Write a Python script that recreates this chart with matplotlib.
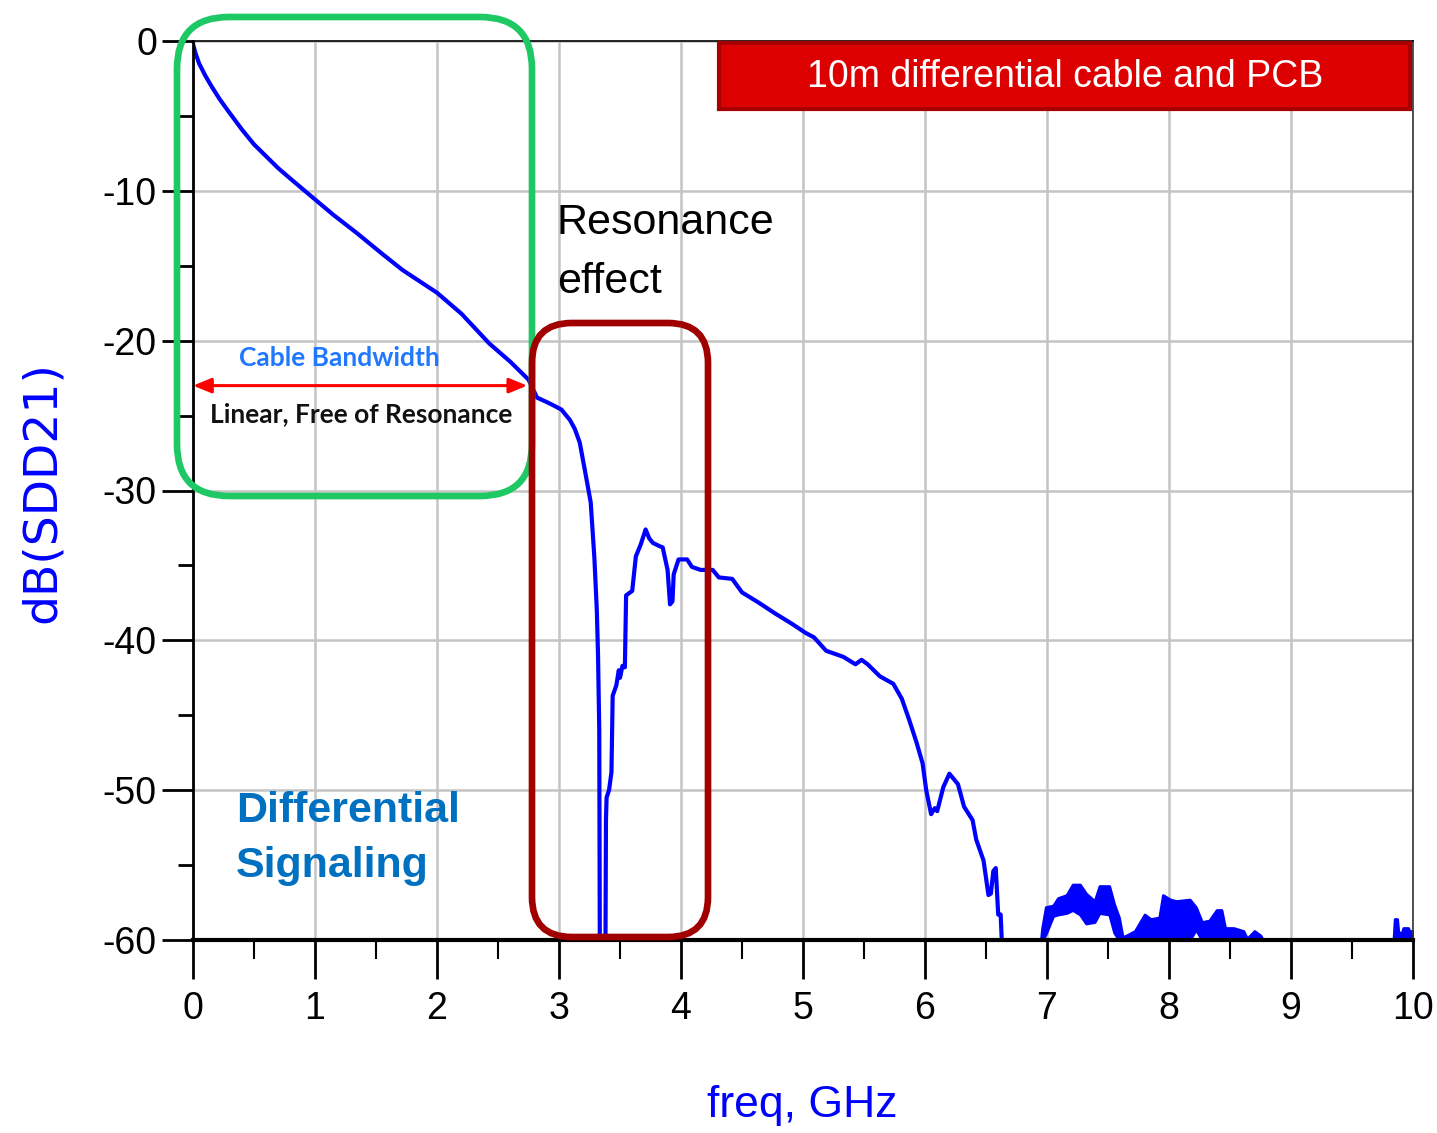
import matplotlib
matplotlib.use("Agg")
import matplotlib.pyplot as plt
from matplotlib import font_manager as fm
from matplotlib.patches import FancyBboxPatch, Rectangle

# ---------------- data ----------------
freq_ghz = [0.0, 0.02, 0.05, 0.10, 0.15, 0.22, 0.30, 0.40, 0.50, 0.60, 0.70, 0.80, 0.96, 1.15,
            1.34, 1.55, 1.72, 2.00, 2.20, 2.43, 2.60, 2.75, 2.82, 2.90, 2.95, 3.02, 3.09, 3.13,
            3.17, 3.22, 3.26, 3.29, 3.31, 3.32, 3.33, 3.335, 3.38, 3.385, 3.39, 3.41, 3.43, 3.44,
            3.47, 3.49, 3.50, 3.52, 3.54, 3.55, 3.60, 3.63, 3.67, 3.71, 3.74, 3.77, 3.82, 3.85,
            3.89, 3.91, 3.93, 3.94, 3.98, 4.05, 4.09, 4.16, 4.26, 4.31, 4.42, 4.50, 4.64,
            4.77, 4.91, 5.02, 5.09, 5.19, 5.33, 5.43, 5.48, 5.53, 5.63, 5.74, 5.81, 5.87,
            5.93, 5.98, 6.01, 6.05, 6.08, 6.10, 6.15, 6.20, 6.24, 6.27, 6.32, 6.39, 6.42,
            6.48, 6.52, 6.54, 6.56, 6.58, 6.60, 6.62, 6.64, 6.95]
sdd21_db = [-0.2, -0.8, -1.5, -2.3, -3.0, -3.9, -4.8, -5.9, -6.9, -7.7, -8.5, -9.2, -10.3, -11.6,
            -12.8, -14.2, -15.3, -16.8, -18.2, -20.2, -21.4, -22.6, -23.8, -24.1, -24.3, -24.6, -25.3, -25.9,
            -26.8, -29.0, -30.8, -34.5, -38.0, -41.0, -46.0, -62.0, -62.0, -52.0, -50.5, -50.0, -48.8, -43.7,
            -43.0, -42.0, -42.5, -41.7, -41.8, -37.0, -36.7, -34.4, -33.6, -32.6, -33.2, -33.5, -33.7, -33.8,
            -35.3, -37.6, -37.4, -35.6, -34.6, -34.6, -35.1, -35.3, -35.3, -35.8, -35.9, -36.8, -37.5,
            -38.2, -38.9, -39.5, -39.8, -40.7, -41.1, -41.6, -41.3, -41.6, -42.4, -42.9, -43.9, -45.3,
            -46.8, -48.2, -50.0, -51.6, -51.2, -51.4, -49.8, -48.9, -49.3, -49.6, -51.1, -52.0, -53.3,
            -54.7, -57.0, -56.9, -55.4, -55.2, -58.3, -58.3, -62.0, -62.0]

# noisy floor region: upper / lower envelopes
band_freq = [6.95, 6.96, 6.99, 7.05, 7.09, 7.16, 7.21, 7.27, 7.32, 7.39, 7.43, 7.51, 7.55, 7.59,
             7.62, 7.65, 7.72, 7.80, 7.85, 7.92, 7.95, 8.01, 8.06, 8.17, 8.22, 8.27, 8.33, 8.39,
             8.43, 8.46, 8.53, 8.61, 8.64, 8.70, 8.75, 8.77,
             9.84, 9.85, 9.87, 9.88, 9.91, 9.92, 9.96, 9.97, 10.0]
band_hi = [-60.0, -59.2, -57.8, -57.7, -57.2, -57.0, -56.3, -56.3, -56.9, -57.4, -56.4, -56.4, -57.6, -58.5,
           -59.8, -59.7, -59.4, -58.3, -58.6, -58.5, -57.0, -57.3, -57.4, -57.3, -57.8, -58.8, -58.7, -58.0,
           -58.0, -59.2, -59.2, -59.4, -59.9, -59.4, -59.7, -60.0,
           -60.0, -58.6, -58.6, -59.5, -59.5, -59.2, -59.2, -59.4, -59.4]
band_lo = [-60.0, -60.0, -59.6, -58.4, -58.3, -58.2, -58.0, -58.3, -58.9, -58.8, -58.2, -58.3, -59.5, -60.0,
           -60.0, -60.0, -60.0, -60.0, -60.0, -60.0, -60.0, -60.0, -60.0, -60.0, -59.3, -60.0, -60.0, -60.0,
           -60.0, -60.0, -60.0, -60.0, -60.0, -60.0, -60.0, -60.0,
           -60.0, -60.0, -60.0, -60.0, -60.0, -60.0, -60.0, -60.0, -60.0]

x_ticks = [0, 1, 2, 3, 4, 5, 6, 7, 8, 9, 10]
x_tick_labels = ["0", "1", "2", "3", "4", "5", "6", "7", "8", "9", "10"]
y_ticks = [0, -10, -20, -30, -40, -50, -60]
y_tick_labels = ["0", "-10", "-20", "-30", "-40", "-50", "-60"]

# ---------------- fonts ----------------
names = {f.name for f in fm.fontManager.ttflist}
HAS_NARROW = "Liberation Sans Narrow" in names
NARROW = "Liberation Sans Narrow" if HAS_NARROW else "Liberation Sans"
TICK_FS = 30 if HAS_NARROW else 27
SANS = "Liberation Sans"
CAL = "Lato" if "Lato" in names else SANS

W, H = 1437, 1133
fig = plt.figure(figsize=(W / 100, H / 100), dpi=100)
fig.patch.set_facecolor("white")

def fx(px):
    return px / W

def fy(py):
    return 1 - py / H

ax = fig.add_axes([fx(193), fy(940), (1413 - 193) / W, (940 - 41) / H])
ax.set_xlim(0, 10)
ax.set_ylim(-60, 0)

ax.plot(freq_ghz, sdd21_db, color="#0000ff", lw=3.0, zorder=3, solid_joinstyle="round")
ax.fill_between(band_freq, band_lo, band_hi, color="#0000ff", lw=2.0, edgecolor="#0000ff", zorder=3)

# ticks
ax.set_xticks(x_ticks)
ax.set_xticklabels(x_tick_labels)
ax.set_xticks([v + 0.5 for v in x_ticks[:-1]], minor=True)
ax.set_yticks(y_ticks)
ax.set_yticklabels(y_tick_labels)
ax.set_yticks([v - 5 for v in y_ticks[:-1]], minor=True)

ax.tick_params(axis="x", which="major", direction="out", length=28, width=2.0, pad=9,
               labelsize=TICK_FS, colors="black")
ax.tick_params(axis="x", which="minor", direction="out", length=14, width=1.5)
ax.tick_params(axis="y", which="major", direction="out", length=22, width=2.0, pad=4,
               labelsize=TICK_FS, colors="black")
ax.tick_params(axis="y", which="minor", direction="out", length=11, width=2.0)
for lab in ax.get_xticklabels() + ax.get_yticklabels():
    lab.set_fontfamily(NARROW)

ax.grid(True, which="major", color="#c4c4c4", lw=1.8, zorder=0)
ax.set_axisbelow(True)

ax.spines["left"].set_linewidth(2.0)
ax.spines["bottom"].set_linewidth(3.0)
ax.spines["top"].set_linewidth(1.2)
ax.spines["right"].set_linewidth(1.2)
ax.spines["right"].set_color("#333333")
for s in ax.spines.values():
    s.set_zorder(4)

# axis labels
fig.text(fx(42), fy(492), "dB(SDD21)", rotation=90, ha="center", va="center",
         fontsize=34, color="#0000ff", family="DejaVu Sans")
fig.text(fx(802), fy(1106), "freq, GHz", ha="center", va="center",
         fontsize=36 if HAS_NARROW else 32, color="#0000ff", family=NARROW)

# title box
fig.add_artist(Rectangle((fx(719), fy(109)), (1410 - 719) / W, (109 - 43) / H,
                         transform=fig.transFigure, facecolor="#dd0000", edgecolor="#a80000",
                         lw=3, zorder=6))
fig.text(fx(1065), fy(77), "10m differential cable and PCB", ha="center", va="center",
         fontsize=31 if HAS_NARROW else 27, color="white", family=NARROW, zorder=7)

# rounded boxes (inches, figure pixel based)
def rbox(x0, y0, x1, y1, r, color, lw):
    p = FancyBboxPatch((x0 / 100, (H - y1) / 100), (x1 - x0) / 100, (y1 - y0) / 100,
                       boxstyle=f"round,pad=0,rounding_size={r}", transform=fig.dpi_scale_trans,
                       facecolor="none", edgecolor=color, lw=lw, zorder=5)
    fig.add_artist(p)

rbox(177, 17, 532, 496, 0.52, "#1ec864", 4.8)
rbox(532, 323, 708, 937, 0.40, "#a00000", 4.8)

# annotations
ax.annotate("", xy=(0.0, -23.0), xytext=(2.74, -23.0),
            arrowprops=dict(arrowstyle="<|-|>,head_length=1.1,head_width=0.45",
                            color="#ff0000", lw=2.2, shrinkA=0, shrinkB=0), zorder=6)
fig.text(fx(339), fy(358), "Cable Bandwidth", ha="center", va="center", fontsize=19,
         fontweight="bold", color="#1f78ff", family=CAL)
fig.text(fx(361), fy(414), "Linear, Free of Resonance", ha="center", va="center", fontsize=19,
         fontweight="bold", color="#111111", family=CAL)
fig.text(fx(557), fy(203), "Resonance\neffect", ha="left", va="top", fontsize=31,
         color="black", family=SANS, linespacing=1.6)
fig.text(fx(236), fy(791), "Differential\nSignaling", ha="left", va="top", fontsize=31,
         fontweight="bold", color="#0070c0", family=SANS, linespacing=1.5)

fig.savefig("out.png", dpi=100, facecolor="white")
